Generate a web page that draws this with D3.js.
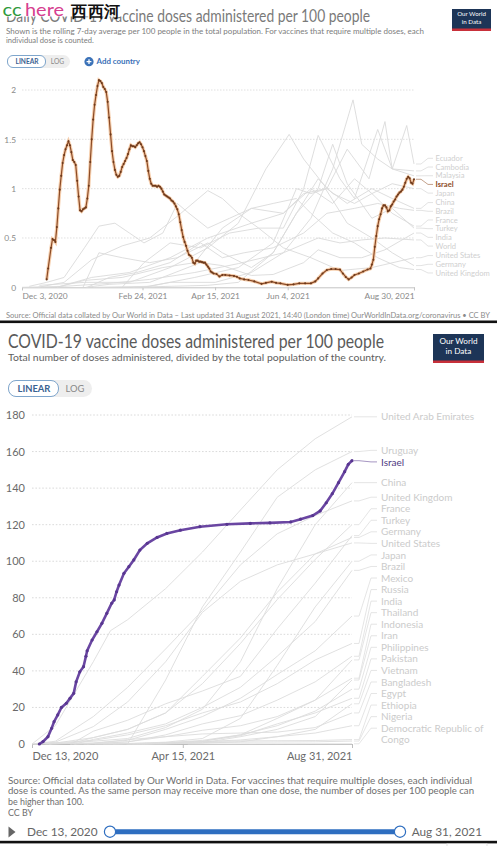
<!DOCTYPE html>
<html><head><meta charset="utf-8">
<script src="https://cdn.jsdelivr.net/npm/d3@7"></script>
<style>
html,body{margin:0;padding:0;background:#fff;}
svg{display:block;}
text{font-family:Lato,"Noto Sans",sans-serif;}
</style></head><body>
<svg id="c" width="497" height="846"></svg>
<script>
// ---------------- DATA: top chart (daily doses, 7-day avg per 100) ----------------
const dailyXTicks = ["2020-12-03","2021-02-24","2021-04-15","2021-06-04","2021-08-30"];
const dailyXLabels = ["Dec 3, 2020","Feb 24, 2021","Apr 15, 2021","Jun 4, 2021","Aug 30, 2021"];
const dailyYTicks = [0,0.5,1,1.5,2];
const dailyYLabels = ["0","0.5","1","1.5","2"];
const israelDaily = [
 ["2020-12-20",0.08],["2020-12-21",0.19],["2020-12-23",0.40],["2020-12-24",0.49],["2020-12-25",0.48],
 ["2020-12-26",0.46],["2020-12-27",0.61],["2020-12-28",0.80],["2020-12-29",0.99],["2020-12-30",1.13],
 ["2020-12-31",1.26],["2021-01-01",1.34],["2021-01-02",1.40],["2021-01-03",1.44],["2021-01-04",1.48],
 ["2021-01-05",1.44],["2021-01-06",1.37],["2021-01-07",1.29],["2021-01-08",1.27],["2021-01-09",1.24],
 ["2021-01-10",1.08],["2021-01-11",0.92],["2021-01-12",0.78],["2021-01-13",0.77],["2021-01-14",0.79],
 ["2021-01-15",0.80],["2021-01-16",0.81],["2021-01-17",0.90],["2021-01-18",1.03],["2021-01-19",1.27],
 ["2021-01-20",1.50],["2021-01-21",1.70],["2021-01-22",1.85],["2021-01-23",1.95],["2021-01-24",2.04],
 ["2021-01-25",2.10],["2021-01-26",2.09],["2021-01-27",2.07],["2021-01-28",2.03],["2021-01-29",2.01],
 ["2021-01-30",1.98],["2021-01-31",1.88],["2021-02-01",1.72],["2021-02-02",1.55],["2021-02-03",1.38],
 ["2021-02-04",1.27],["2021-02-05",1.19],["2021-02-06",1.14],["2021-02-07",1.12],["2021-02-08",1.13],
 ["2021-02-09",1.17],["2021-02-10",1.22],["2021-02-11",1.25],["2021-02-12",1.28],["2021-02-13",1.31],
 ["2021-02-14",1.35],["2021-02-15",1.40],["2021-02-16",1.44],["2021-02-17",1.43],["2021-02-18",1.43],
 ["2021-02-19",1.42],["2021-02-20",1.44],["2021-02-21",1.46],["2021-02-22",1.47],["2021-02-23",1.45],
 ["2021-02-24",1.42],["2021-02-25",1.38],["2021-02-26",1.33],["2021-02-27",1.28],["2021-02-28",1.18],
 ["2021-03-01",1.10],["2021-03-02",1.05],["2021-03-03",1.03],["2021-03-04",1.03],["2021-03-05",1.03],
 ["2021-03-06",1.02],["2021-03-07",1.03],["2021-03-08",1.02],["2021-03-09",1.00],["2021-03-10",0.97],
 ["2021-03-11",0.94],["2021-03-12",0.93],["2021-03-13",0.92],["2021-03-14",0.91],["2021-03-15",0.90],
 ["2021-03-16",0.88],["2021-03-17",0.87],["2021-03-18",0.85],["2021-03-19",0.82],["2021-03-20",0.79],
 ["2021-03-21",0.74],["2021-03-22",0.66],["2021-03-23",0.58],["2021-03-24",0.51],["2021-03-25",0.46],
 ["2021-03-26",0.42],["2021-03-27",0.37],["2021-03-28",0.33],["2021-03-29",0.32],["2021-03-30",0.30],
 ["2021-03-31",0.25],["2021-04-01",0.24],["2021-04-02",0.27],["2021-04-03",0.27],["2021-04-04",0.26],
 ["2021-04-05",0.26],["2021-04-06",0.255],["2021-04-07",0.25],["2021-04-08",0.25],["2021-04-09",0.23],
 ["2021-04-10",0.21],["2021-04-11",0.19],["2021-04-12",0.16],["2021-04-13",0.15],["2021-04-14",0.14],
 ["2021-04-16",0.135],["2021-04-18",0.11],["2021-04-20",0.125],["2021-04-22",0.125],["2021-04-25",0.12],
 ["2021-04-28",0.115],["2021-04-30",0.107],["2021-05-02",0.09],["2021-05-05",0.08],["2021-05-08",0.074],
 ["2021-05-12",0.06],["2021-05-17",0.035],["2021-05-20",0.045],["2021-05-24",0.057],["2021-05-27",0.045],
 ["2021-05-30",0.04],["2021-06-04",0.025],["2021-06-08",0.03],["2021-06-12",0.04],["2021-06-16",0.04],
 ["2021-06-20",0.04],["2021-06-23",0.06],["2021-06-25",0.09],["2021-06-28",0.14],["2021-07-01",0.175],
 ["2021-07-04",0.185],["2021-07-07",0.185],["2021-07-10",0.18],["2021-07-12",0.14],["2021-07-14",0.105],
 ["2021-07-16",0.08],["2021-07-18",0.10],["2021-07-20",0.125],["2021-07-23",0.14],["2021-07-26",0.16],
 ["2021-07-29",0.18],["2021-07-31",0.19],["2021-08-01",0.23],["2021-08-02",0.28],["2021-08-03",0.41],
 ["2021-08-04",0.52],["2021-08-05",0.62],["2021-08-06",0.69],["2021-08-07",0.74],["2021-08-08",0.80],
 ["2021-08-09",0.83],["2021-08-10",0.83],["2021-08-11",0.81],["2021-08-12",0.77],["2021-08-13",0.78],
 ["2021-08-14",0.82],["2021-08-15",0.84],["2021-08-16",0.87],["2021-08-17",0.89],["2021-08-18",0.92],
 ["2021-08-19",0.94],["2021-08-20",0.96],["2021-08-21",0.97],["2021-08-22",0.99],["2021-08-23",1.02],
 ["2021-08-24",1.06],["2021-08-25",1.10],["2021-08-26",1.12],["2021-08-27",1.105],["2021-08-28",1.06],
 ["2021-08-29",1.05],["2021-08-30",1.095]
];
const dailyOtherNames = ["Ecuador","Cambodia","Malaysia","Japan","China","Brazil","France","Turkey","India","World","United States","Germany","United Kingdom"];
const dailyOtherValues = [
 [["2021-01-21",0],["2021-03-01",0.01],["2021-04-01",0.1],["2021-05-01",0.2],["2021-05-25",0.45],["2021-06-10",1.0],["2021-06-20",0.95],["2021-07-01",1.0],["2021-07-15",1.4],["2021-07-30",1.1],["2021-08-10",1.68],["2021-08-15",1.2],["2021-08-25",1.64],["2021-08-30",1.25]],
 [["2021-02-10",0],["2021-02-25",0.25],["2021-03-15",0.45],["2021-04-05",0.4],["2021-04-25",0.55],["2021-05-15",0.6],["2021-06-01",0.6],["2021-06-15",1.0],["2021-06-25",1.54],["2021-07-10",1.1],["2021-07-20",0.9],["2021-08-05",1.6],["2021-08-15",1.2],["2021-08-30",1.18]],
 [["2021-02-24",0],["2021-03-15",0.05],["2021-04-15",0.05],["2021-05-10",0.15],["2021-06-01",0.35],["2021-06-20",0.7],["2021-07-05",1.2],["2021-07-19",1.9],["2021-07-25",1.45],["2021-08-05",1.3],["2021-08-15",1.2],["2021-08-30",1.13]],
 [["2021-02-17",0],["2021-04-10",0.02],["2021-05-01",0.05],["2021-05-25",0.35],["2021-06-10",0.75],["2021-06-25",1.1],["2021-07-05",0.95],["2021-07-20",0.85],["2021-08-01",0.95],["2021-08-15",1.05],["2021-08-30",1.0]],
 [["2020-12-15",0.02],["2021-01-15",0.05],["2021-02-15",0.05],["2021-03-15",0.2],["2021-04-10",0.4],["2021-05-01",0.65],["2021-05-20",1.2],["2021-06-05",1.55],["2021-06-15",1.3],["2021-07-01",1.0],["2021-07-15",0.85],["2021-08-01",1.0],["2021-08-15",0.9],["2021-08-30",0.8]],
 [["2021-01-17",0],["2021-02-01",0.1],["2021-02-20",0.15],["2021-03-15",0.25],["2021-04-05",0.45],["2021-04-20",0.3],["2021-05-05",0.35],["2021-05-25",0.4],["2021-06-15",0.55],["2021-07-01",0.75],["2021-07-20",0.8],["2021-08-05",0.85],["2021-08-20",0.8],["2021-08-30",0.78]],
 [["2020-12-27",0],["2021-01-20",0.1],["2021-02-15",0.15],["2021-03-15",0.3],["2021-04-10",0.5],["2021-05-10",0.65],["2021-06-01",0.75],["2021-06-20",1.0],["2021-07-05",0.85],["2021-07-20",1.1],["2021-08-01",0.95],["2021-08-15",0.75],["2021-08-30",0.62]],
 [["2021-01-14",0],["2021-01-25",0.35],["2021-02-10",0.3],["2021-03-01",0.25],["2021-03-20",0.3],["2021-04-10",0.45],["2021-04-20",0.35],["2021-05-10",0.2],["2021-05-25",0.35],["2021-06-10",0.75],["2021-06-25",1.0],["2021-07-05",1.45],["2021-07-15",1.05],["2021-08-01",0.7],["2021-08-15",0.8],["2021-08-30",0.6]],
 [["2021-01-16",0],["2021-02-01",0.03],["2021-03-01",0.05],["2021-04-05",0.25],["2021-04-20",0.22],["2021-05-10",0.12],["2021-05-25",0.13],["2021-06-15",0.25],["2021-06-25",0.38],["2021-07-10",0.3],["2021-07-25",0.3],["2021-08-10",0.38],["2021-08-30",0.55]],
 [["2020-12-03",0],["2021-01-01",0.01],["2021-02-01",0.04],["2021-03-01",0.08],["2021-04-01",0.15],["2021-05-01",0.24],["2021-06-01",0.35],["2021-06-25",0.5],["2021-07-10",0.45],["2021-07-25",0.48],["2021-08-10",0.5],["2021-08-30",0.48]],
 [["2020-12-14",0],["2021-01-01",0.05],["2021-01-20",0.28],["2021-02-10",0.42],["2021-03-01",0.5],["2021-03-20",0.72],["2021-04-10",0.98],["2021-04-20",0.9],["2021-05-01",0.75],["2021-05-15",0.6],["2021-06-01",0.4],["2021-06-20",0.3],["2021-07-10",0.17],["2021-08-01",0.2],["2021-08-30",0.3]],
 [["2020-12-27",0],["2021-01-15",0.07],["2021-02-10",0.1],["2021-03-10",0.2],["2021-04-01",0.25],["2021-04-20",0.6],["2021-05-10",0.8],["2021-06-01",0.75],["2021-06-15",0.95],["2021-06-30",1.0],["2021-07-15",0.65],["2021-08-01",0.5],["2021-08-15",0.35],["2021-08-30",0.22]],
 [["2020-12-08",0.01],["2020-12-20",0.05],["2021-01-01",0.1],["2021-01-15",0.4],["2021-01-25",0.62],["2021-02-05",0.65],["2021-02-15",0.55],["2021-02-25",0.45],["2021-03-10",0.55],["2021-03-20",0.85],["2021-03-28",0.75],["2021-04-10",0.6],["2021-04-25",0.7],["2021-05-10",0.8],["2021-05-25",0.85],["2021-06-10",0.9],["2021-06-20",0.75],["2021-07-05",0.55],["2021-07-20",0.45],["2021-08-05",0.3],["2021-08-20",0.2],["2021-08-30",0.18]]
];

// ---------------- DATA: bottom chart (cumulative doses per 100) ----------------
const cumXTicks = ["2020-12-13","2021-04-15","2021-08-31"];
const cumXLabels = ["Dec 13, 2020","Apr 15, 2021","Aug 31, 2021"];
const cumYTicks = [0,20,40,60,80,100,120,140,160,180];
const israelCum = [
 ["2020-12-19",0],["2020-12-22",1.3],["2020-12-26",4],["2020-12-29",8.6],["2020-12-31",12.2],
 ["2021-01-03",15.9],["2021-01-06",20],["2021-01-10",22.3],["2021-01-13",25],["2021-01-16",27.7],
 ["2021-01-18",34],["2021-01-21",39.5],["2021-01-24",42.3],["2021-01-26",48],["2021-01-27",51],
 ["2021-01-31",56.9],["2021-02-04",61.4],["2021-02-08",66],["2021-02-12",71.5],["2021-02-16",77],
 ["2021-02-18",78.8],["2021-02-20",83.3],["2021-02-22",87],["2021-02-26",93.4],["2021-03-02",97],
 ["2021-03-06",100.7],["2021-03-11",106.1],["2021-03-17",109.8],["2021-03-25",113],["2021-04-02",115.2],
 ["2021-04-13",117],["2021-04-29",118.9],["2021-05-21",120.2],["2021-06-09",120.7],["2021-06-25",121],
 ["2021-07-12",121.5],["2021-07-20",123],["2021-07-30",125],["2021-08-05",127.5],["2021-08-10",132],
 ["2021-08-15",137],["2021-08-20",143],["2021-08-25",149],["2021-08-28",153],["2021-08-31",155]
];
const cumOtherNames = ["United Arab Emirates","Uruguay","China","United Kingdom","France","Turkey","Germany","United States","Japan","Brazil","Mexico","Russia","India","Thailand","Indonesia","Iran","Philippines","Pakistan","Vietnam","Bangladesh","Egypt","Ethiopia","Nigeria","Democratic Republic of Congo"];
const cumOtherValues = [
 [["2020-12-13",0],["2021-01-01",10],["2021-02-01",45],["2021-02-15",62],["2021-03-01",68],["2021-04-01",85],["2021-05-01",105],["2021-06-01",128],["2021-07-01",150],["2021-08-01",167],["2021-08-31",179]],
 [["2021-03-01",0],["2021-04-01",35],["2021-05-01",75],["2021-06-01",105],["2021-07-01",135],["2021-08-01",150],["2021-08-31",160]],
 [["2020-12-15",0],["2021-01-01",0.3],["2021-02-01",1.5],["2021-03-01",3],["2021-04-01",9],["2021-05-01",19],["2021-06-01",45],["2021-07-01",85],["2021-08-01",120],["2021-08-31",143]],
 [["2020-12-13",0],["2021-01-01",1.5],["2021-02-01",15],["2021-03-01",31],["2021-04-01",52],["2021-05-01",73],["2021-06-01",98],["2021-07-01",115],["2021-08-01",125],["2021-08-31",133]],
 [["2020-12-27",0],["2021-01-15",0.5],["2021-02-01",3.5],["2021-03-01",8],["2021-04-01",17],["2021-05-01",33],["2021-06-01",55],["2021-07-01",79],["2021-08-01",101],["2021-08-31",120]],
 [["2021-01-14",0],["2021-02-01",7],["2021-03-01",13],["2021-04-01",22],["2021-05-01",29],["2021-06-01",37],["2021-07-01",63],["2021-08-01",88],["2021-08-31",114]],
 [["2020-12-27",0],["2021-02-01",3.5],["2021-03-01",8],["2021-04-01",17],["2021-05-01",37],["2021-06-01",58],["2021-07-01",83],["2021-08-01",104],["2021-08-31",113]],
 [["2020-12-14",0],["2021-01-01",1],["2021-02-01",9.5],["2021-03-01",23],["2021-04-01",45],["2021-05-01",72],["2021-06-01",89],["2021-07-01",98],["2021-08-01",104],["2021-08-31",110]],
 [["2021-02-17",0],["2021-04-01",1],["2021-05-01",3],["2021-06-01",14],["2021-07-01",43],["2021-08-01",75],["2021-08-31",100]],
 [["2021-01-17",0],["2021-02-01",2.5],["2021-03-01",6],["2021-04-01",11],["2021-05-01",20],["2021-06-01",31],["2021-07-01",48],["2021-08-01",67],["2021-08-31",95]],
 [["2020-12-24",0],["2021-02-01",0.6],["2021-03-01",2],["2021-04-01",8],["2021-05-01",15],["2021-06-01",25],["2021-07-01",38],["2021-08-01",51],["2021-08-31",70]],
 [["2020-12-15",0],["2021-02-01",2],["2021-03-01",5],["2021-04-01",10],["2021-05-01",17],["2021-06-01",23],["2021-07-01",33],["2021-08-01",46],["2021-08-31",55]],
 [["2021-01-16",0],["2021-02-01",0.3],["2021-03-01",1.1],["2021-04-01",5],["2021-05-01",11],["2021-06-01",15.5],["2021-07-01",24],["2021-08-01",34],["2021-08-31",48]],
 [["2021-02-28",0],["2021-04-01",0.2],["2021-05-01",1.5],["2021-06-01",5],["2021-07-01",14],["2021-08-01",24],["2021-08-31",46]],
 [["2021-01-13",0],["2021-02-01",0.2],["2021-03-01",1.2],["2021-04-01",4],["2021-05-01",7.5],["2021-06-01",10],["2021-07-01",15],["2021-08-01",24],["2021-08-31",36]],
 [["2021-02-09",0],["2021-04-01",0.2],["2021-05-01",0.6],["2021-06-01",4],["2021-07-01",8],["2021-08-01",15],["2021-08-31",35]],
 [["2021-03-01",0],["2021-04-01",0.7],["2021-05-01",2],["2021-06-01",5],["2021-07-01",10],["2021-08-01",18],["2021-08-31",30]],
 [["2021-02-02",0],["2021-03-01",0.2],["2021-04-01",0.7],["2021-05-01",1.5],["2021-06-01",4.5],["2021-07-01",11],["2021-08-01",17],["2021-08-31",25]],
 [["2021-03-08",0],["2021-04-01",0.05],["2021-05-01",0.5],["2021-06-01",1.2],["2021-07-01",4],["2021-08-01",8],["2021-08-31",22]],
 [["2021-01-27",0],["2021-03-01",2.4],["2021-04-01",4],["2021-05-01",5.5],["2021-06-01",6],["2021-07-01",6.5],["2021-08-01",9],["2021-08-31",17]],
 [["2021-01-24",0],["2021-03-01",0.1],["2021-04-01",0.5],["2021-05-01",1.3],["2021-06-01",2.2],["2021-07-01",4],["2021-08-01",6],["2021-08-31",10]],
 [["2021-03-13",0],["2021-04-01",0.5],["2021-05-01",1.3],["2021-06-01",1.7],["2021-07-01",1.8],["2021-08-01",1.9],["2021-08-31",2.4]],
 [["2021-03-05",0],["2021-04-01",0.4],["2021-05-01",0.8],["2021-06-01",1.0],["2021-07-01",1.1],["2021-08-01",1.2],["2021-08-31",1.6]],
 [["2021-04-19",0],["2021-06-01",0.02],["2021-08-31",0.1]]
];

// ---------------- DRAWING ----------------
const parse = d3.timeParse("%Y-%m-%d");
const svg = d3.select("#c");
svg.append("rect").attr("width",497).attr("height",846).attr("fill","#fff");

function dodge(items, gap, minY, maxY){
  items.sort((a,b)=>a.ideal-b.ideal);
  let groups = items.map(it=>({items:[it]}));
  const layout = g=>{
    let off=0; const starts=[];
    g.items.forEach(it=>{starts.push(it.ideal-gap/2-off); off+=it.lines*gap;});
    g.h=off;
    g.start=Math.max(minY,Math.min(maxY-g.h,d3.mean(starts)));
    off=0; g.items.forEach(it=>{it.y=g.start+off+gap/2; off+=it.lines*gap;});
  };
  groups.forEach(layout);
  let merged=true;
  while(merged){
    merged=false;
    for(let i=1;i<groups.length;i++){
      if(groups[i].start < groups[i-1].start+groups[i-1].h-0.01){
        groups[i-1].items=groups[i-1].items.concat(groups[i].items);
        groups.splice(i,1); layout(groups[i-1]); merged=true; break;
      }
    }
  }
  return items;
}

function logo(x,y,w,h,fs){
  svg.append("rect").attr("x",x).attr("y",y).attr("width",w).attr("height",h).attr("fill","#1d3557");
  svg.append("rect").attr("x",x).attr("y",y+h-2.5).attr("width",w).attr("height",2.5).attr("fill","#c8303a");
  svg.append("text").attr("x",x+w/2).attr("y",y+fs*1.2).attr("text-anchor","middle").attr("fill","#fff")
    .attr("font-size",fs).text("Our World");
  svg.append("text").attr("x",x+w/2).attr("y",y+fs*2.45).attr("text-anchor","middle").attr("fill","#fff")
    .attr("font-size",fs).text("in Data");
}

function toggle(x,y,w1,w2,h,fs){
  svg.append("rect").attr("x",x).attr("y",y).attr("width",w1+w2).attr("height",h).attr("rx",h/2).attr("fill","#eeeeee");
  svg.append("rect").attr("x",x+0.5).attr("y",y+0.5).attr("width",w1).attr("height",h-1).attr("rx",h/2-1)
    .attr("fill","#fff").attr("stroke","#7fa6cc").attr("stroke-width",1);
  svg.append("text").attr("x",x+w1/2+1).attr("y",y+h/2+fs*0.36).attr("text-anchor","middle")
    .attr("font-size",fs).attr("font-weight",700).attr("fill","#3a6291").text("LINEAR");
  svg.append("text").attr("x",x+w1+w2/2).attr("y",y+h/2+fs*0.36).attr("text-anchor","middle")
    .attr("font-size",fs).attr("fill","#888").text("LOG");
}

// =============== TOP PANEL ===============
svg.append("text").attr("x",6).attr("y",22).attr("font-family","'Liberation Serif',serif")
  .attr("font-size",17.5).attr("fill","#7a7a7a").attr("textLength",364).attr("lengthAdjust","spacingAndGlyphs")
  .text("Daily COVID-19 vaccine doses administered per 100 people");
svg.append("text").attr("x",6).attr("y",33.5).attr("font-size",7.6).attr("fill","#7d7d7d")
  .attr("textLength",418).attr("lengthAdjust","spacingAndGlyphs")
  .text("Shown is the rolling 7-day average per 100 people in the total population. For vaccines that require multiple doses, each");
svg.append("text").attr("x",6).attr("y",43).attr("font-size",7.6).attr("fill","#7d7d7d")
  .text("individual dose is counted.");
logo(452,9,39,22,6.2);
toggle(7,55,38,25,13,6.6);
svg.append("circle").attr("cx",89).attr("cy",61.7).attr("r",4.6).attr("fill","#3b72b8");
svg.append("path").attr("d","M86.6,61.7h4.8M89,59.3v4.8").attr("stroke","#fff").attr("stroke-width",1.3);
svg.append("text").attr("x",96.5).attr("y",64.4).attr("font-size",7.9).attr("font-weight",700)
  .attr("fill","#3b72b8").text("Add country");

// watermark over the title
svg.append("rect").attr("x",0).attr("y",0).attr("width",123).attr("height",16.5).attr("fill","#fff");
svg.append("text").attr("x",2.5).attr("y",16).attr("font-family","'DejaVu Sans',sans-serif").attr("font-size",16.5)
  .attr("fill","#2f9a3c").attr("textLength",19).attr("lengthAdjust","spacingAndGlyphs").text("cc");
svg.append("text").attr("x",25).attr("y",16).attr("font-family","'DejaVu Sans',sans-serif").attr("font-size",16.5)
  .attr("fill","#d6408f").attr("textLength",39).attr("lengthAdjust","spacingAndGlyphs").text("here");
svg.append("text").attr("x",71).attr("y",16.5).attr("font-family","'Noto Sans CJK SC',sans-serif")
  .attr("font-weight",700).attr("font-size",15.5).attr("fill","#111").attr("textLength",49).text("西西河");

const xD = d3.scaleTime().domain([parse("2020-12-03"),parse("2021-08-30")]).range([22,414]);
const yD = d3.scaleLinear().domain([0,2]).range([287.3,90]);

const gD = svg.append("g");
gD.selectAll("line.grid").data(dailyYTicks.filter(v=>v>0)).join("line")
  .attr("x1",22).attr("x2",414).attr("y1",d=>yD(d)).attr("y2",d=>yD(d))
  .attr("stroke","#d8d8d8").attr("stroke-width",0.8).attr("stroke-dasharray","1.5,1.5");
const yAxD = gD.append("g").attr("transform","translate(19,0)")
  .call(d3.axisLeft(yD).tickValues(dailyYTicks).tickFormat((d,i)=>dailyYLabels[i]).tickSize(0));
yAxD.select(".domain").remove();
yAxD.selectAll("text").attr("font-size",8.4).attr("fill","#8a8a8a").attr("font-family","Lato,sans-serif").attr("dx",0);
const xAxD = gD.append("g").attr("transform","translate(0,287.3)")
  .call(d3.axisBottom(xD).tickValues(dailyXTicks.map(parse)).tickFormat((d,i)=>dailyXLabels[i]).tickSize(3).tickPadding(3));
xAxD.select(".domain").attr("stroke","#c4c4c4");
xAxD.selectAll(".tick line").attr("stroke","#c4c4c4");
xAxD.selectAll("text").attr("font-size",8.4).attr("fill","#8a8a8a").attr("font-family","Lato,sans-serif")
  .attr("text-anchor",(d,i)=>i===0?"start":(i===dailyXTicks.length-1?"end":"middle"));

const lineD = d3.line().x(d=>xD(parse(d[0]))).y(d=>yD(d[1]));
gD.selectAll("path.other").data(dailyOtherValues).join("path")
  .attr("d",lineD).attr("fill","none").attr("stroke","#dadada").attr("stroke-width",0.9);
gD.append("path").attr("d",lineD(israelDaily)).attr("fill","none").attr("stroke","#f6cfae").attr("stroke-width",3.4);
gD.append("path").attr("d",lineD(israelDaily)).attr("fill","none").attr("stroke","#8d4c27").attr("stroke-width",1.2);
gD.selectAll("circle.pt").data(israelDaily).join("circle").attr("cx",d=>xD(parse(d[0]))).attr("cy",d=>yD(d[1]))
  .attr("r",1.05).attr("fill","#6d3a1c");

// labels (top)
const labD = dailyOtherNames.map((n,i)=>({name:n,end:dailyOtherValues[i][dailyOtherValues[i].length-1][1],lines:1}));
labD.push({name:"Israel",end:israelDaily[israelDaily.length-1][1],lines:1,hl:true});
labD.forEach(l=>l.ideal=yD(l.end));
dodge(labD,8.7,80,290);
labD.forEach(l=>{
  gD.append("path").attr("d",`M416,${yD(l.end)}H421L428,${l.y}H433`).attr("fill","none")
    .attr("stroke",l.hl?"#b58a6e":"#dcdcdc").attr("stroke-width",0.8);
  gD.append("text").attr("x",435.5).attr("y",l.y+2.7).attr("font-size",7.6)
    .attr("font-weight",l.hl?700:400).attr("fill",l.hl?"#8d4c27":"#cfcfcf").text(l.name);
});

svg.append("text").attr("x",6).attr("y",317.5).attr("font-size",7.2).attr("fill","#8a8a8a")
  .attr("textLength",484).attr("lengthAdjust","spacingAndGlyphs")
  .text("Source: Official data collated by Our World in Data – Last updated 31 August 2021, 14:40 (London time) OurWorldInData.org/coronavirus • CC BY");
svg.append("rect").attr("x",0).attr("y",320.5).attr("width",497).attr("height",2.6).attr("fill","#111");

// =============== BOTTOM PANEL ===============
svg.append("text").attr("x",8).attr("y",348).attr("font-family","'Liberation Serif',serif")
  .attr("font-size",19).attr("fill","#5a5a5a").attr("textLength",376).attr("lengthAdjust","spacingAndGlyphs")
  .text("COVID-19 vaccine doses administered per 100 people");
svg.append("text").attr("x",8).attr("y",360.5).attr("font-size",10).attr("fill","#5e5e5e")
  .attr("textLength",378).attr("lengthAdjust","spacingAndGlyphs")
  .text("Total number of doses administered, divided by the total population of the country.");
logo(433,334,51,29,8.2);
toggle(8,380,50,34,17,9.4);

const xC = d3.scaleTime().domain([parse("2020-12-13"),parse("2021-08-31")]).range([32,352]);
const yC = d3.scaleLinear().domain([0,180]).range([744,415]);
const gC = svg.append("g");
gC.selectAll("line.grid").data(cumYTicks.filter(v=>v>0)).join("line")
  .attr("x1",32).attr("x2",352).attr("y1",d=>yC(d)).attr("y2",d=>yC(d))
  .attr("stroke","#d6d6d6").attr("stroke-width",0.9).attr("stroke-dasharray","1.6,1.8");
const yAxC = gC.append("g").attr("transform","translate(28,0)")
  .call(d3.axisLeft(yC).tickValues(cumYTicks).tickSize(0));
yAxC.select(".domain").remove();
yAxC.selectAll("text").attr("font-size",11).attr("fill","#6a6a6a").attr("font-family","Lato,sans-serif");
const xAxC = gC.append("g").attr("transform","translate(0,744)")
  .call(d3.axisBottom(xC).tickValues(cumXTicks.map(parse)).tickFormat((d,i)=>cumXLabels[i]).tickSize(4).tickPadding(4));
xAxC.select(".domain").attr("stroke","#bdbdbd");
xAxC.selectAll(".tick line").attr("stroke","#bdbdbd");
xAxC.selectAll("text").attr("font-size",11).attr("fill","#6a6a6a").attr("font-family","Lato,sans-serif")
  .attr("text-anchor",(d,i)=>i===0?"start":(i===cumXTicks.length-1?"end":"middle"));

const lineC = d3.line().x(d=>xC(parse(d[0]))).y(d=>yC(d[1]));
gC.selectAll("path.other").data(cumOtherValues).join("path")
  .attr("d",lineC).attr("fill","none").attr("stroke","#dddddd").attr("stroke-width",0.9);
gC.append("path").attr("d",lineC(israelCum)).attr("fill","none").attr("stroke","#6a46a2").attr("stroke-width",2.6);
gC.selectAll("circle.pt").data(israelCum).join("circle").attr("cx",d=>xC(parse(d[0]))).attr("cy",d=>yC(d[1]))
  .attr("r",1.6).attr("fill","#583690");

const labC = cumOtherNames.map((n,i)=>({name:n,end:cumOtherValues[i][cumOtherValues[i].length-1][1],
  lines:n==="Democratic Republic of Congo"?2:1}));
labC.push({name:"Israel",end:israelCum[israelCum.length-1][1],lines:1,hl:true});
labC.forEach(l=>l.ideal=yC(l.end));
dodge(labC,11.55,405,745.5);
labC.forEach(l=>{
  gC.append("path").attr("d",`M354,${yC(l.end)}H359L371,${l.y}H377`).attr("fill","none")
    .attr("stroke",l.hl?"#8f7bb3":"#dedede").attr("stroke-width",0.8);
  const t = gC.append("text").attr("x",381).attr("y",l.y+3.6).attr("font-size",10)
    .attr("fill",l.hl?"#4f3a82":"#cbcbcb");
  if(l.lines===2){
    t.append("tspan").attr("x",381).text("Democratic Republic of");
    t.append("tspan").attr("x",381).attr("dy",11.55).text("Congo");
  } else t.text(l.name);
});

// source notes
const src = ["Source: Official data collated by Our World in Data. For vaccines that require multiple doses, each individual",
 "dose is counted. As the same person may receive more than one dose, the number of doses per 100 people can",
 "be higher than 100.","CC BY"];
src.forEach((s,i)=>{
  const t=svg.append("text").attr("x",8).attr("y",783.5+i*10.8).attr("font-size",8.9).attr("fill","#6e6e6e").text(s);
  if(i<2) t.attr("textLength",i===0?464:466).attr("lengthAdjust","spacingAndGlyphs");
});

// timeline
svg.append("path").attr("d","M8.5,826.5L15.5,832L8.5,837.5Z").attr("fill","#666");
svg.append("text").attr("x",27).attr("y",836).attr("font-size",11.8).attr("fill","#666").text("Dec 13, 2020");
svg.append("line").attr("x1",110).attr("x2",400).attr("y1",831.7).attr("y2",831.7).attr("stroke","#2e6ec0").attr("stroke-width",5);
[110,400].forEach(cx=>svg.append("circle").attr("cx",cx).attr("cy",831.7).attr("r",5.6).attr("fill","#fff")
  .attr("stroke","#2e6ec0").attr("stroke-width",1.2));
svg.append("text").attr("x",482).attr("y",836).attr("text-anchor","end").attr("font-size",11.8).attr("fill","#666").text("Aug 31, 2021");
svg.append("rect").attr("x",0).attr("y",840.8).attr("width",497).attr("height",2.6).attr("fill","#111");
svg.append("rect").attr("x",447).attr("y",843.4).attr("width",40).attr("height",3).attr("fill","none").attr("stroke","#ccc").attr("stroke-width",0.6);
</script></body></html>
